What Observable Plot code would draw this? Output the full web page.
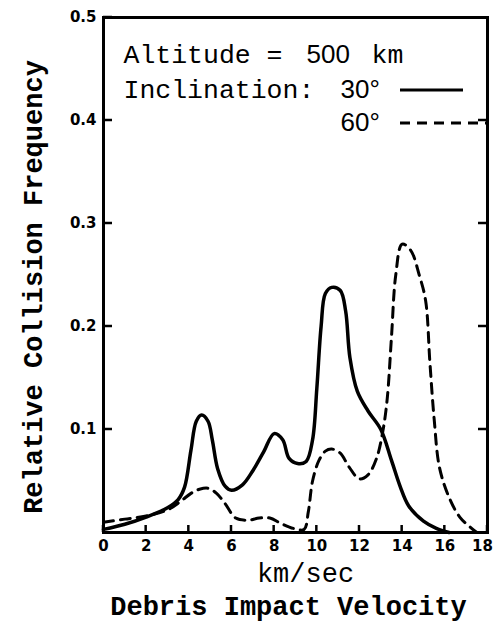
<!DOCTYPE html>
<html>
<head>
<meta charset="utf-8">
<script src="https://cdn.jsdelivr.net/npm/d3@7"></script>
<script src="https://cdn.jsdelivr.net/npm/@observablehq/plot@0.6"></script>
<style>
  html, body { margin: 0; padding: 0; background: #fff; }
</style>
</head>
<body>
<div id="chart"></div>
<script>
// ---- data ----
const velocity30 = [0, 1, 2, 3, 3.5, 3.8, 4.1, 4.35, 4.6, 4.9, 5.1, 5.35, 5.7, 6.0, 6.5, 7.0, 7.5, 8.0, 8.4, 8.7, 9.1, 9.5, 9.8, 10.0, 10.2, 10.4, 10.7, 11.1, 11.35, 11.55, 11.9, 12.4, 13.0, 13.5, 13.9, 14.3, 15.0, 15.6, 16.2];
const frequency30 = [0.003, 0.008, 0.015, 0.024, 0.032, 0.044, 0.08, 0.108, 0.114, 0.108, 0.09, 0.062, 0.045, 0.041, 0.046, 0.06, 0.078, 0.096, 0.09, 0.072, 0.067, 0.069, 0.09, 0.14, 0.2, 0.232, 0.238, 0.235, 0.215, 0.17, 0.137, 0.118, 0.1, 0.07, 0.045, 0.026, 0.011, 0.004, 0];

const velocity60 = [0, 1, 2, 3, 3.6, 4.1, 4.5, 4.9, 5.3, 5.7, 6.2, 6.8, 7.3, 7.8, 8.3, 8.9, 9.4, 9.6, 9.8, 10.1, 10.4, 10.7, 11.1, 11.5, 12.0, 12.4, 12.8, 13.1, 13.3, 13.5, 13.7, 14.0, 14.4, 14.8, 15.1, 15.3, 15.5, 15.75, 16.2, 16.7, 17.2, 17.5];
const frequency60 = [0.01, 0.013, 0.016, 0.022, 0.03, 0.038, 0.042, 0.043, 0.038, 0.028, 0.014, 0.012, 0.014, 0.014, 0.009, 0.004, 0.003, 0.02, 0.05, 0.07, 0.079, 0.081, 0.077, 0.064, 0.052, 0.056, 0.072, 0.099, 0.13, 0.19, 0.25, 0.28, 0.274, 0.25, 0.225, 0.165, 0.11, 0.063, 0.034, 0.015, 0.005, 0];

const xTicks = [0, 2, 4, 6, 8, 10, 12, 14, 16, 18];
const xTickLabels = ["0", "2", "4", "6", "8", "10", "12", "14", "16", "18"];
const yTicks = [0.1, 0.2, 0.3, 0.4, 0.5];
const yTickLabels = ["0.1", "0.2", "0.3", "0.4", "0.5"];
const rightTicks = [0.1, 0.2, 0.3, 0.4];

const legendAltitude = ["Altitude = ", "500", "km"];
const legendInclination = ["Inclination: ", "30°", "60°"];
const xTitle = "km/sec";
const xTitle2 = "Debris Impact Velocity";
const yTitle = "Relative Collision Frequency";

// ---- build tables ----
const rows30 = velocity30.map((v, i) => ({v, f: frequency30[i]}));
const rows60 = velocity60.map((v, i) => ({v, f: frequency60[i]}));
const xTickRows = xTicks.map((v, i) => ({v, label: xTickLabels[i]}));
const yTickRows = yTicks.map((v, i) => ({v, label: yTickLabels[i]}));
const xMax = xTicks[xTicks.length - 1];

const mono = "'Liberation Mono', 'Courier New', monospace";
const sans = "'Liberation Sans', Arial, sans-serif";
const tickFont = "'DejaVu Sans', 'Liberation Sans', sans-serif";

const tickLenX = 7, tickLenY = 9;

// inward tick marks, placed through Plot's own x and y scales
const inwardTicks = (index, scales, values, dim) => {
  const g = d3.create("svg:g").attr("fill", "none").attr("stroke", "black").attr("stroke-width", 2.5);
  const left = dim.marginLeft, right = dim.width - dim.marginRight;
  const bottom = dim.height - dim.marginBottom;
  for (const t of xTicks) {
    const px = scales.x(t);
    g.append("line").attr("x1", px).attr("x2", px).attr("y1", bottom).attr("y2", bottom - tickLenX);
  }
  for (const t of yTicks) {
    const py = scales.y(t);
    g.append("line").attr("x1", left).attr("x2", left + tickLenY).attr("y1", py).attr("y2", py);
  }
  for (const t of rightTicks) {
    const py = scales.y(t);
    g.append("line").attr("x1", right).attr("x2", right - tickLenY).attr("y1", py).attr("y2", py);
  }
  return g.node();
};

// legend sample lines, positioned relative to the frame
const legendLines = (index, scales, values, dim) => {
  const g = d3.create("svg:g").attr("fill", "none").attr("stroke", "black");
  const right = dim.width - dim.marginRight;
  const top = dim.marginTop;
  g.append("line")
    .attr("x1", right - 87).attr("x2", right - 24)
    .attr("y1", top + 73).attr("y2", top + 73)
    .attr("stroke-width", 3);
  g.append("line")
    .attr("x1", right - 87).attr("x2", right)
    .attr("y1", top + 106).attr("y2", top + 106)
    .attr("stroke-width", 3)
    .attr("stroke-dasharray", "10,7");
  return g.node();
};

const tickText = {frameAnchor: "bottom", lineAnchor: "top", dy: 8, fontFamily: tickFont, fontWeight: "bold", fontSize: 15};

const chart = Plot.plot({
  width: 497,
  height: 621,
  marginLeft: 103,
  marginRight: 10,
  marginTop: 17,
  marginBottom: 89,
  style: {background: "#fff", color: "#000"},
  x: {domain: [0, 18], axis: null},
  y: {domain: [0, 0.5], axis: null},
  marks: [
    Plot.frame({stroke: "black", strokeWidth: 3}),
    inwardTicks,
    // tick labels
    Plot.text(xTickRows, {x: "v", text: "label", filter: d => d.v < xMax, ...tickText}),
    Plot.text(xTickRows, {x: "v", text: "label", filter: d => d.v === xMax, dx: -5, ...tickText}),
    Plot.text(yTickRows, {y: "v", text: "label", frameAnchor: "left", textAnchor: "end", dx: -7, fontFamily: tickFont, fontWeight: "bold", fontSize: 15}),
    Plot.line(rows30, {x: "v", y: "f", curve: "catmull-rom", stroke: "black", strokeWidth: 3.5}),
    Plot.line(rows60, {x: "v", y: "f", curve: "catmull-rom", stroke: "black", strokeWidth: 3, strokeDasharray: "10,7"}),
    // legend text
    Plot.text([legendAltitude[0]], {text: d => d, frameAnchor: "top-left", textAnchor: "start", lineAnchor: "bottom", dx: 20, dy: 45, fontFamily: mono, fontSize: 26.5}),
    Plot.text([legendAltitude[1]], {text: d => d, frameAnchor: "top-left", textAnchor: "start", lineAnchor: "bottom", dx: 203, dy: 45, fontFamily: sans, fontSize: 26}),
    Plot.text([legendAltitude[2]], {text: d => d, frameAnchor: "top-left", textAnchor: "start", lineAnchor: "bottom", dx: 268, dy: 45, fontFamily: mono, fontSize: 26.5}),
    Plot.text([legendInclination[0]], {text: d => d, frameAnchor: "top-left", textAnchor: "start", lineAnchor: "bottom", dx: 20, dy: 80, fontFamily: mono, fontSize: 26.5}),
    Plot.text([legendInclination[1]], {text: d => d, frameAnchor: "top-left", textAnchor: "start", lineAnchor: "bottom", dx: 237, dy: 80, fontFamily: sans, fontSize: 26}),
    Plot.text([legendInclination[2]], {text: d => d, frameAnchor: "top-left", textAnchor: "start", lineAnchor: "bottom", dx: 237, dy: 113, fontFamily: sans, fontSize: 26}),
    legendLines,
    // axis titles
    Plot.text([yTitle], {text: d => d, frameAnchor: "left", rotate: -90, textAnchor: "middle", lineAnchor: "bottom", dx: -62, dy: 12, fontFamily: mono, fontWeight: "bold", fontSize: 27}),
    Plot.text([xTitle], {text: d => d, frameAnchor: "bottom", textAnchor: "middle", lineAnchor: "bottom", dx: 10, dy: 49, fontFamily: mono, fontSize: 27}),
    Plot.text([xTitle2], {text: d => d, frameAnchor: "bottom", textAnchor: "middle", lineAnchor: "bottom", dx: -7, dy: 82, fontFamily: mono, fontWeight: "bold", fontSize: 27})
  ]
});
document.getElementById("chart").appendChild(chart);
</script>
</body>
</html>
